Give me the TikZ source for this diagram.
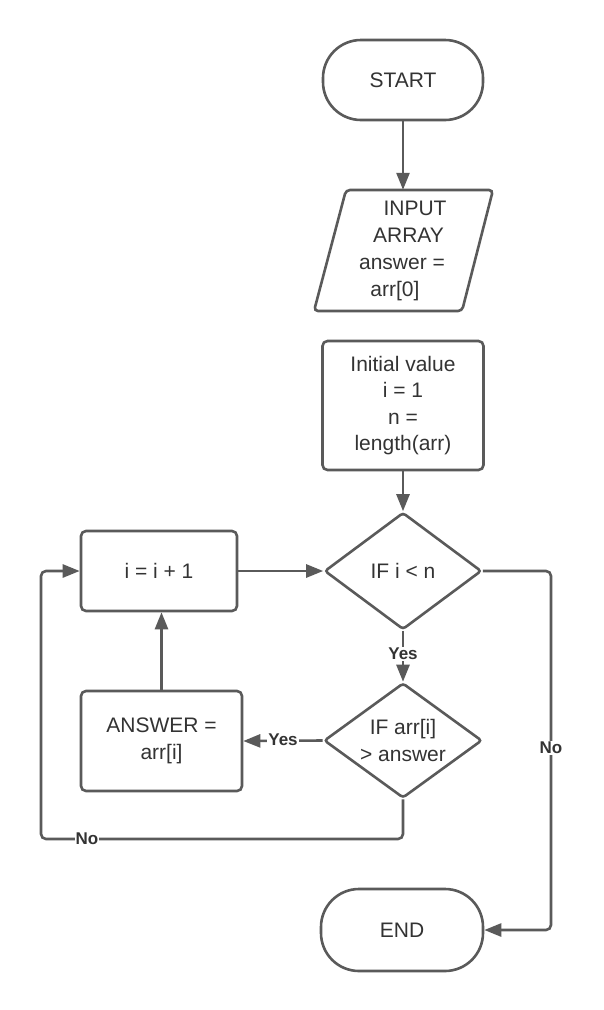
\documentclass[tikz,border=0pt]{standalone}
\usepackage{fontspec}
\setmainfont{Liberation Sans}
\usetikzlibrary{arrows.meta,shapes.geometric}
\definecolor{linegray}{HTML}{5A5A5A}
\definecolor{txtgray}{HTML}{333333}
\begin{document}
\begin{tikzpicture}[x=1pt,y=-1pt,
  shp/.style={draw=linegray,line width=2.6pt,fill=white,text=txtgray,font=\fontsize{21}{26.5}\selectfont,align=center},
  box/.style={shp,rectangle,rounded corners=5pt,inner sep=0pt},
  term/.style={shp,rectangle,rounded corners=38pt,inner sep=0pt},
  dia/.style={shp,diamond,rounded corners=3pt,inner sep=0pt},
  pshape/.style={draw=linegray,line width=2.6pt,fill=white,rounded corners=4pt},
  conn/.style={draw=linegray,line width=2.6pt,rounded corners=5pt},
  arr/.style={conn,-{Triangle[length=17pt,width=13pt]}},
  lab/.style={fill=white,text=txtgray,font=\fontsize{17}{19}\selectfont\bfseries,inner sep=1pt},
  txt/.style={text=txtgray,font=\fontsize{21}{26.5}\selectfont,inner sep=0pt}
]
\fill[white] (0,0) rectangle (604,1010);
\useasboundingbox (0,0) rectangle (604,1010);

% START
\node[term,minimum width=160pt,minimum height=80pt] (start) at (403,80) {START};

% INPUT parallelogram
\node[minimum width=150pt,minimum height=121pt,inner sep=0pt] (input) at (403,250.5) {};
\draw[pshape] (346,190) -- (493,190) -- (462,311) -- (314,311) -- cycle;
\node[txt,anchor=base] (in1) at (415,215) {INPUT};
\node[txt,anchor=base] (in2) at (408.5,242) {ARRAY};
\node[txt,anchor=base] (in3) at (402,269) {answer =};
\node[txt,anchor=base] (in4) at (395,296) {arr[0]};

% Initial value
\node[box,minimum width=161pt,minimum height=129pt] (init) at (403,405.5) {Initial value\\i = 1\\n =\\length(arr)};

% Decisions
\node[dia,minimum width=157pt,minimum height=117pt,label={[txt,align=center]center:IF i < n}] (d1) at (403,571) {};
\node[dia,minimum width=158pt,minimum height=115pt,label={[txt,align=center]center:IF arr[i]\\> answer}] (d2) at (403,740.5) {};

% i = i + 1
\node[box,minimum width=156pt,minimum height=80pt] (ibox) at (159,571) {i = i + 1};

% ANSWER
\node[box,minimum width=161pt,minimum height=100pt] (ans) at (161.5,741) {ANSWER =\\arr[i]};

% END
\node[term,minimum width=162pt,minimum height=82pt] (end) at (402,930) {END};

% coordinates
\coordinate (nr) at (551,748);
\coordinate (nl) at (41,839);

% connectors
\draw[arr] (start.south) -- (start.south |- input.north);
\draw[arr] (init.south) -- (d1.north);
\draw[arr] (d1.south) -- (d2.north);
\node[lab] (yes1) at (403,654) {Yes};
\draw[arr] (d2.west) -- (ans.east);
\node[lab] (yes2) at (283,740) {Yes};
\draw[arr] (ibox.east) -- (d1.west);
\draw[arr] (ans.north) -- (ans.north |- ibox.south);
\draw[arr] (d1.east) -| (nr) |- (end.east);
\node[lab] (no1) at (nr) {No};
\draw[arr] (d2.south) |- (nl) |- (ibox.west);
\node[lab] (no2) at (87,839) {No};
\end{tikzpicture}
\end{document}
